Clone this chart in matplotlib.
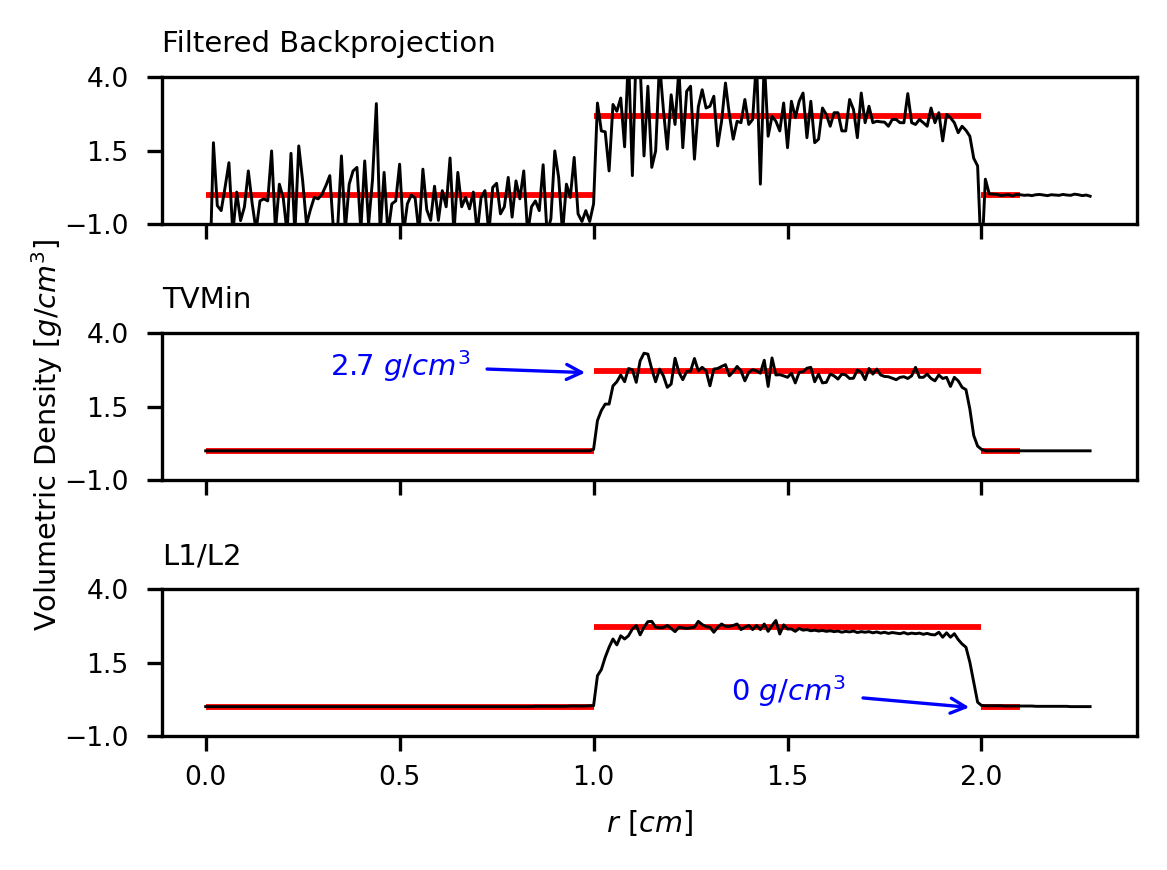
import matplotlib.pyplot as plt
import numpy as np

# radial sample positions (cm), 0.01 cm spacing
r = np.linspace(0.0, 2.28, 229)

# true density profile: 0 inside, 2.7 in the shell, 0 outside
true_edges = [0.0, 1.0, 2.0, 2.1]
true_levels = [0.0, 2.7, 0.0]

# filtered backprojection profile
fbp = [
    -2.0, -3.0, 1.78, -0.36, -0.53, 0.26, 1.1, -1.3, 0.1, -0.87,
    -0.4, 0.82, -0.3, -1.2, -0.2, -0.13, -0.2, 1.5, -1.2, 0.37,
    -0.1, -1.3, 1.42, -1.3, 1.67, 0.49, -1.0, -0.5, -0.08, -0.13,
    0.03, 0.32, 0.66, -1.3, -1.2, 1.33, -1.2, 0.37, 0.82, 0.94,
    -1.2, 1.16, -1.0, 0.5, 3.11, -1.3, 0.77, -1.3, -0.3, -0.2,
    1.05, -1.3, -0.3, 0.0, -0.1, -1.3, 0.88, -0.5, -0.86, 0.3,
    -0.86, 0.15, -0.4, 1.26, -1.3, 0.77, -0.4, -0.08, -0.47, 0.1,
    -1.3, -0.08, 0.15, -1.3, 0.26, 0.4, -0.64, -0.4, 0.6, -0.75,
    0.48, -0.13, 0.82, -1.3, -0.4, -0.2, -0.53, 1.03, -1.3, -0.8,
    1.5, 0.6, -1.3, 0.37, -0.08, 1.28, -0.64, -0.9, -0.53, -0.9,
    -0.3,
    3.13, 2.18, 2.15, 0.82, 3.08, 2.85, 3.3, 1.64, 4.8, 0.66,
    5.0, 4.4, 1.33, 3.7, 0.94, 1.5, 4.5, 2.9, 1.56, 3.41,
    2.4, 4.3, 1.61, 3.53, 3.7, 1.22, 3.0, 3.58, 2.96, 3.02,
    3.36, 1.67, 2.51, 3.81, 2.74, 1.9, 2.51, 2.46, 3.25, 2.4,
    2.57, 4.6, 0.37, 4.6, 2.0, 2.68, 2.51, 2.18, 3.13, 1.61,
    3.19, 2.63, 3.19, 3.47, 1.95, 3.19, 1.78, 1.9, 2.96, 2.74,
    2.34, 2.8, 2.8, 2.18, 2.18, 3.25, 2.91, 1.95, 3.47, 2.46,
    3.02, 2.46, 2.51, 2.49, 2.48, 2.34, 2.57, 2.57, 2.46, 2.46,
    3.45, 2.46, 2.4, 2.57, 2.46, 2.34, 2.96, 2.46, 2.8, 1.84,
    2.74, 2.63, 2.46, 2.12, 2.34, 2.2, 2.0, 1.25, 0.99,
    -2.3, 0.54, 0.04, 0.03, 0.02, -0.02, 0.0, 0.01, -0.03, 0.02,
    0.01, -0.01, 0.0, -0.02, 0.01, 0.02, 0.0, -0.02, 0.01, 0.0,
    -0.01, 0.02, 0.0, -0.01, 0.03, 0.01, -0.02, 0.0, -0.04,
]

# TV minimisation profile
tvmin = [
    0.0, 0.0, 0.0, 0.0, 0.0, 0.0, 0.0, 0.0, 0.0, 0.0,
    0.0, 0.0, 0.0, 0.0, 0.0, 0.0, 0.0, 0.0, 0.0, 0.0,
    0.0, 0.0, 0.0, 0.0, 0.0, 0.0, 0.0, 0.0, 0.0, 0.0,
    0.0, 0.0, 0.0, 0.0, 0.0, 0.0, 0.0, 0.0, 0.0, 0.0,
    0.0, 0.0, 0.0, 0.0, 0.0, 0.0, 0.0, 0.0, 0.0, 0.0,
    0.0, 0.0, 0.0, 0.0, 0.0, 0.0, 0.0, 0.0, 0.0, 0.0,
    0.0, 0.0, 0.0, 0.0, 0.0, 0.0, 0.0, 0.0, 0.0, 0.0,
    0.0, 0.0, 0.0, 0.0, 0.0, 0.0, 0.0, 0.0, 0.0, 0.0,
    0.0, 0.0, 0.0, 0.0, 0.0, 0.0, 0.0, 0.0, 0.0, 0.0,
    0.0, 0.0, 0.0, 0.0, 0.0, 0.0, 0.0, 0.0, 0.0, 0.0,
    0.05,
    1.03, 1.37, 1.59, 1.59, 2.21, 2.35, 2.58, 2.35, 2.8, 2.76,
    2.33, 3.06, 3.32, 3.29, 2.78, 2.35, 2.78, 2.55, 2.16, 2.27,
    3.15, 2.67, 2.42, 2.7, 2.71, 3.14, 2.72, 2.84, 2.72, 2.21,
    2.78, 2.8, 2.87, 2.93, 2.55, 2.69, 2.87, 2.72, 2.38, 2.67,
    2.76, 2.72, 2.64, 3.08, 2.19, 3.16, 2.58, 2.59, 2.55, 2.5,
    2.64, 2.31, 2.67, 2.69, 2.81, 2.84, 2.35, 2.61, 2.31, 2.33,
    2.61, 2.55, 2.44, 2.61, 2.58, 2.46, 2.47, 2.75, 2.67, 2.42,
    2.8, 2.61, 2.78, 2.58, 2.53, 2.52, 2.47, 2.42, 2.5, 2.52,
    2.46, 2.55, 2.84, 2.5, 2.5, 2.61, 2.46, 2.38, 2.58, 2.46,
    2.5, 2.19, 2.5, 2.38, 2.16, 2.08, 1.42, 0.52, 0.16, 0.05,
    0.0, 0.0, 0.0, 0.0, 0.0, 0.0, 0.0, 0.0, 0.0, 0.0,
    0.0, 0.0, 0.0, 0.0, 0.0, 0.0, 0.0, 0.0, 0.0, 0.0,
    0.0, 0.0, 0.0, 0.0, 0.0, 0.0, 0.0, 0.0,
]

# L1/L2 minimisation profile
l1l2 = [
    0.0, 0.0, 0.0, 0.0, 0.0, 0.0, 0.0, 0.0, 0.0, 0.0,
    0.0, 0.0, 0.0, 0.0, 0.0, 0.0, 0.0, 0.0, 0.0, 0.0,
    0.0, 0.0, 0.0, 0.0, 0.0, 0.0, 0.0, 0.0, 0.0, 0.0,
    0.0, 0.0, 0.0, 0.0, 0.0, 0.0, 0.0, 0.0, 0.0, 0.0,
    0.0, 0.0, 0.0, 0.0, 0.0, 0.0, 0.0, 0.0, 0.0, 0.0,
    0.0, 0.0, 0.0, 0.0, 0.0, 0.0, 0.0, 0.0, 0.0, 0.0,
    0.0, 0.0, 0.0, 0.0, 0.0, 0.0, 0.0, 0.0, 0.0, 0.0,
    0.0, 0.0, 0.0, 0.0, 0.0, 0.0, 0.0, 0.0, 0.0, 0.0,
    0.0, 0.0, 0.0, 0.0, 0.0, 0.01, 0.01, 0.01, 0.01, 0.01,
    0.01, 0.01, 0.01, 0.01, 0.02, 0.02, 0.02, 0.02, 0.02, 0.03,
    0.03,
    1.05, 1.26, 1.68, 2.02, 2.3, 2.1, 2.41, 2.3, 2.41, 2.64,
    2.76, 2.44, 2.7, 2.89, 2.9, 2.7, 2.68, 2.69, 2.76, 2.66,
    2.55, 2.7, 2.68, 2.66, 2.68, 2.7, 2.9, 2.79, 2.72, 2.7,
    2.53, 2.7, 2.81, 2.73, 2.73, 2.76, 2.81, 2.62, 2.7, 2.76,
    2.62, 2.76, 2.62, 2.81, 2.56, 2.76, 2.93, 2.47, 2.78, 2.64,
    2.64, 2.56, 2.66, 2.6, 2.62, 2.58, 2.6, 2.57, 2.59, 2.56,
    2.58, 2.55, 2.57, 2.53, 2.56, 2.54, 2.57, 2.52, 2.55, 2.53,
    2.55, 2.51, 2.54, 2.5, 2.53, 2.49, 2.52, 2.5, 2.48, 2.52,
    2.47, 2.5, 2.48, 2.5, 2.46, 2.49, 2.45, 2.44, 2.53, 2.36,
    2.51, 2.36, 2.48, 2.28, 2.13, 2.02, 1.51, 0.83, 0.15, 0.04,
    0.03, 0.03, 0.03, 0.03, 0.03, 0.02, 0.02, 0.02, 0.02, 0.02,
    0.02, 0.02, 0.02, 0.01, 0.01, 0.01, 0.01, 0.01, 0.01, 0.01,
    0.01, 0.01, 0.0, 0.0, 0.0, 0.0, 0.0, 0.0,
]

titles = ['Filtered Backprojection', 'TVMin', 'L1/L2']
profiles = [fbp, tvmin, l1l2]

fig, axs = plt.subplots(3, 1, sharex=True, figsize=(3.89, 2.9), dpi=300)
fig.subplots_adjust(left=0.139, right=0.974, top=0.911, bottom=0.154, hspace=0.74)

for ax, title, prof in zip(axs, titles, profiles):
    ax.hlines(true_levels, true_edges[:-1], true_edges[1:], color='red', lw=1.4)
    ax.plot(r, prof, color='black', lw=0.7)
    ax.set_title(title, loc='left', fontsize=7)
    ax.set_ylim(-1.0, 4.0)
    ax.set_yticks([-1.0, 1.5, 4.0])
    ax.tick_params(labelsize=6.4)
    ax.tick_params(axis='y', pad=4.5)

axs[2].set_xlim(-0.112, 2.40)
axs[2].set_xticks([0.0, 0.5, 1.0, 1.5, 2.0])
axs[2].set_xlabel('$r\\ [cm]$', fontsize=6.9)

arrow = dict(arrowstyle='->', color='blue', lw=0.8, mutation_scale=9)
axs[1].annotate('2.7 $g/cm^3$', xy=(1.0, 2.65), xytext=(0.32, 2.55),
                color='blue', fontsize=7, arrowprops=arrow)
axs[2].annotate('0 $g/cm^3$', xy=(1.99, -0.05), xytext=(1.355, 0.18),
                color='blue', fontsize=7, arrowprops=arrow)

fig.text(0.04, 0.5, 'Volumetric Density [$g/cm^3$]', rotation=90,
         ha='center', va='center', fontsize=6.9)

fig.savefig('out.png', dpi=300)
